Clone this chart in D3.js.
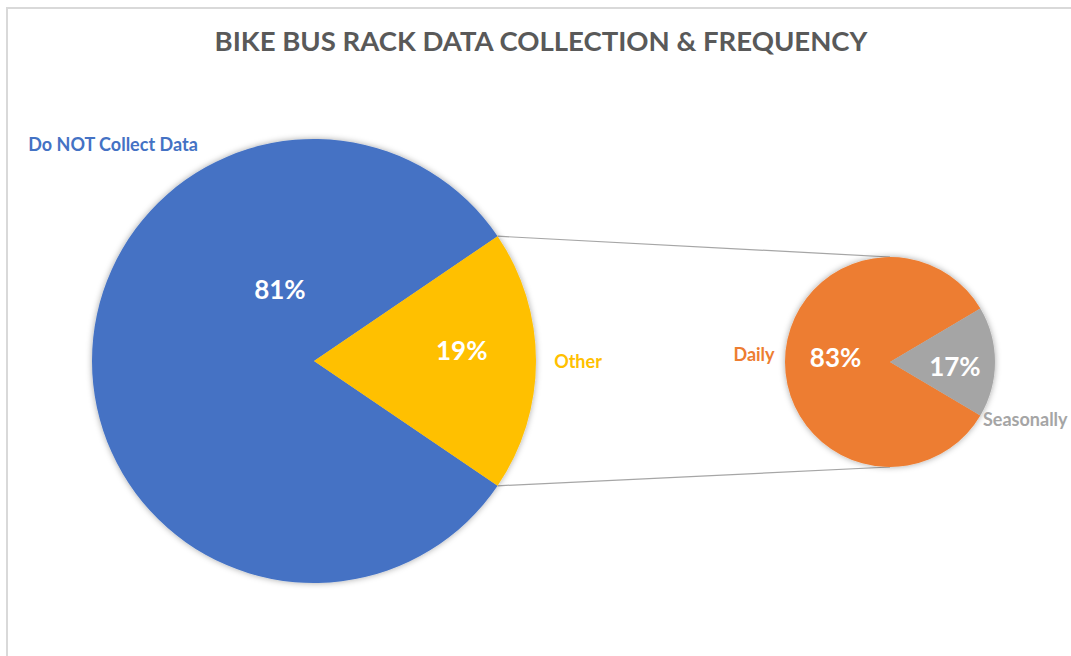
<!DOCTYPE html>
<html>
<head>
<meta charset="utf-8">
<script src="https://cdn.jsdelivr.net/npm/d3@7"></script>
<style>
  html, body { margin: 0; padding: 0; background: #ffffff; }
  svg { display: block; font-family: Lato, "Open Sans", sans-serif; }
</style>
</head>
<body>
<svg id="chart" width="1071" height="656"></svg>
<script>
// ---- data ----
const mainCategories = ["Do NOT Collect Data", "Other"];
const mainValues = [81, 19];
const mainColors = ["#4472C4", "#FFC000"];

const subCategories = ["Daily", "Seasonally"];
const subValues = [83, 17];
const subColors = ["#ED7D31", "#A5A5A5"];

const titleText = "BIKE BUS RACK DATA COLLECTION & FREQUENCY";

// ---- layout ----
const W = 1071, H = 656;
const main = { cx: 314, cy: 361, r: 222 };
const sub = { cx: 890, cy: 362, r: 105 };

const svg = d3.select("#chart");

// shadow filter
const defs = svg.append("defs");
const f = defs.append("filter").attr("id", "shadow")
  .attr("x", "-20%").attr("y", "-20%").attr("width", "140%").attr("height", "140%");
f.append("feDropShadow").attr("dx", 0).attr("dy", 0).attr("stdDeviation", 3)
  .attr("flood-color", "#000").attr("flood-opacity", 0.35);

// chart frame
svg.append("rect").attr("x", 7).attr("y", 8).attr("width", W + 20).attr("height", H + 20)
  .attr("fill", "#fff").attr("stroke", "#d9d9d9").attr("stroke-width", 2);

// title
const title = svg.append("text").attr("x", 541).attr("y", 51)
  .attr("text-anchor", "middle").attr("fill", "#595959")
  .attr("font-weight", 700).attr("font-size", 26).text(titleText);
(function fit(t, target) {
  const w = t.node().getComputedTextLength();
  const fs = +t.attr("font-size");
  t.attr("font-size", fs * target / w);
})(title, 653);

// pie generators: the split slice (last) is centred on 3 o'clock
function piePositioned(values) {
  const total = d3.sum(values);
  const lastFrac = values[values.length - 1] / total;
  const start = Math.PI / 2 - lastFrac * Math.PI - (1 - lastFrac) * 2 * Math.PI;
  return d3.pie().sort(null).startAngle(start).endAngle(start + 2 * Math.PI)(values);
}

const mainArcs = piePositioned(mainValues);
const subArcs = piePositioned(subValues);

// connector lines from the split slice edges to top/bottom of second pie
const other = mainArcs[1];
function pt(c, a) { return [c.cx + c.r * Math.sin(a), c.cy - c.r * Math.cos(a)]; }
const pTop = pt(main, other.startAngle);
const pBot = pt(main, other.endAngle);
const lines = [
  [pTop, [sub.cx, sub.cy - sub.r]],
  [pBot, [sub.cx, sub.cy + sub.r]]
];
svg.append("g").selectAll("line").data(lines).join("line")
  .attr("x1", d => d[0][0]).attr("y1", d => d[0][1])
  .attr("x2", d => d[1][0]).attr("y2", d => d[1][1])
  .attr("stroke", "#a6a6a6").attr("stroke-width", 1.2);

// main pie
const arcMain = d3.arc().innerRadius(0).outerRadius(main.r);
svg.append("g").attr("transform", `translate(${main.cx},${main.cy})`)
  .attr("filter", "url(#shadow)")
  .selectAll("path").data(mainArcs).join("path")
  .attr("d", arcMain).attr("fill", (d, i) => mainColors[i]);

// sub pie
const arcSub = d3.arc().innerRadius(0).outerRadius(sub.r);
svg.append("g").attr("transform", `translate(${sub.cx},${sub.cy})`)
  .attr("filter", "url(#shadow)")
  .selectAll("path").data(subArcs).join("path")
  .attr("d", arcSub).attr("fill", (d, i) => subColors[i]);

// percent labels (polar placement: angle in degrees clockwise from top, radius fraction)
const pctPlace = {
  main: [{ a: -25.6, f: 0.355 }, { a: 86, f: 0.667 }],
  sub: [{ a: -86, f: 0.52 }, { a: 94, f: 0.62 }]
};
function polar(c, p) {
  const a = p.a * Math.PI / 180;
  return [c.cx + c.r * p.f * Math.sin(a), c.cy - c.r * p.f * Math.cos(a)];
}
function pctText(c, vals, places) {
  const tot = d3.sum(vals);
  vals.forEach((v, i) => {
    const [x, y] = polar(c, places[i]);
    svg.append("text").attr("x", x).attr("y", y).attr("dy", "0.35em")
      .attr("text-anchor", "middle").attr("fill", "#ffffff")
      .attr("font-size", 26).attr("font-weight", 700)
      .text(Math.round(v / tot * 100) + "%");
  });
}
pctText(main, mainValues, pctPlace.main);
pctText(sub, subValues, pctPlace.sub);

// category labels
const catPlace = {
  main: [{ dx: -201, dy: -216, anchor: "middle" }, { dx: 264, dy: 1, anchor: "middle" }],
  sub: [{ dx: -136, dy: -7, anchor: "middle" }, { dx: 93, dy: 58, anchor: "start" }]
};
function catText(c, cats, colors, places) {
  cats.forEach((name, i) => {
    const p = places[i];
    svg.append("text").attr("x", c.cx + p.dx).attr("y", c.cy + p.dy).attr("dy", "0.35em")
      .attr("text-anchor", p.anchor).attr("fill", colors[i])
      .attr("font-size", 18).attr("font-weight", 700).text(name);
  });
}
catText(main, mainCategories, mainColors, catPlace.main);
catText(sub, subCategories, subColors, catPlace.sub);
</script>
</body>
</html>
